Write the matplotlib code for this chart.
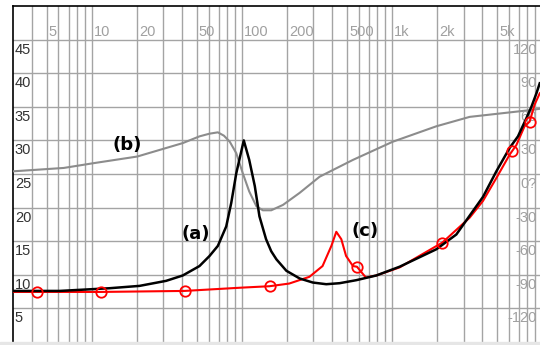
import numpy as np
import matplotlib.pyplot as plt
from matplotlib.patches import Rectangle

plt.rcParams.update({
    "font.family": "Liberation Sans",
    "font.size": 10.5,
})

# curve (a) - black
freq_a = [3, 6.1, 13.1, 20.8, 31.3, 40.4, 52.2, 60.9, 69.2, 78.7, 85.0, 91.8, 103,
          112, 122, 131, 145, 157, 170, 198, 243, 297, 365, 448, 579, 787, 1125, 1977,
          2687, 3296, 4046, 4966, 6095, 6918, 7870, 8500, 9180, 9660]
level_a = [7.6, 7.6, 8.0, 8.35, 9.1, 9.9, 11.3, 12.8, 14.3, 17.2, 20.7, 25.1, 30.0,
           27.1, 23.2, 18.7, 15.3, 13.5, 12.3, 10.6, 9.45, 8.85, 8.6, 8.75, 9.2, 9.9, 11.2, 13.8,
           16.0, 18.8, 21.6, 25.4, 28.9, 30.6, 33.3, 35.0, 37.0, 38.5]

# curve (b) - gray
freq_b = [3, 6.5, 10.2, 20.1, 40.4, 52.2, 60.9, 69.2, 76, 83.1, 91.8, 101.5, 112, 125, 138,
          157, 188, 243, 330, 550, 1012, 1977, 3296, 5224, 8279, 9660]
level_b = [25.4, 25.9, 26.6, 27.6, 29.6, 30.6, 31.0, 31.2, 30.7, 29.8, 28.1, 25.1, 22.4, 20.2, 19.6,
           19.6, 20.4, 22.2, 24.6, 27.1, 29.8, 32.1, 33.5, 34.0, 34.5, 34.7]

# curve (c) - red
freq_c = [3, 11.5, 41.5, 101.5, 153, 207, 282, 345, 395, 426, 460, 495, 550, 585,
          670, 787, 1125, 2170, 3296, 4046, 4966, 6095, 6748, 7650, 8279, 8920, 9660]
level_c = [7.45, 7.45, 7.6, 8.1, 8.3, 8.7, 9.7, 11.3, 14.3, 16.4, 15.3, 12.8, 11.3, 11.2,
           9.6, 9.9, 11.1, 14.8, 18.5, 21.0, 24.4, 27.9, 29.3, 32.1, 32.8, 35.3, 37.0]
marker_freq_c = [4.3, 11.5, 41.5, 153, 585, 2170, 6300, 8279]
marker_level_c = [7.45, 7.45, 7.6, 8.3, 11.2, 14.8, 28.4, 32.8]

top_ticks = [5, 10, 20, 50, 100, 200, 500, 1000, 2000, 5000]
top_labels = ["5", "10", "20", "50", "100", "200", "500", "1k", "2k", "5k"]
left_ticks = [5, 10, 15, 20, 25, 30, 35, 40, 45]
right_labels = ["-120", "-90", "-60", "-30", "0?", "30", "60", "90", "120"]

W, H = 540, 345
fig = plt.figure(figsize=(W / 100, H / 100), dpi=100)
fig.patches.append(Rectangle((0, 0), 1, 3 / H, transform=fig.transFigure,
                             color="#e6e6e6", zorder=0))
ax = fig.add_axes([13.3 / W, 3 / H, 1 - 13.3 / W, (342 - 6) / H])

grid_x = [f * d for d in (1, 10, 100, 1000) for f in range(1, 10)]
ax.set_xscale("log")
ax.set_xlim(3, 9700)
ax.set_ylim(0, 50)
ax.set_xticks([g for g in grid_x if 3 < g < 9700])
ax.xaxis.set_minor_locator(plt.NullLocator())
ax.set_yticks(left_ticks)
ax.tick_params(length=0, labelbottom=False, labelleft=False)
ax.grid(True, color="#a4a4a4", lw=1.0)
ax.set_axisbelow(True)
for s in ("right", "bottom"):
    ax.spines[s].set_visible(False)
for s in ("left", "top"):
    ax.spines[s].set_linewidth(1.2)
    ax.spines[s].set_color("black")

ax.plot(freq_b, level_b, color="#8c8c8c", lw=1.5, zorder=3)
ax.plot(freq_c, level_c, color="#ff0000", lw=1.5, zorder=4)
ax.plot(freq_a, level_a, color="black", lw=1.8, zorder=5)
ax.plot(marker_freq_c, marker_level_c, ls="none", marker="o", ms=7.5, mfc="none",
        mec="#ff0000", mew=1.3, zorder=6)

# tick labels drawn inside the frame
for f, t in zip(top_ticks, top_labels):
    ax.text(f * 1.035, 46.1, t, color="#a0a0a0", ha="left", va="center")
ytr = ax.get_yaxis_transform()
for v, t in zip(left_ticks, right_labels):
    ax.text(0.003, v - 0.45, str(v), color="#333333", ha="left", va="top", transform=ytr)
    ax.text(0.9943, v - 0.45, t, color="#a0a0a0", ha="right", va="top", transform=ytr)

ax.text(17.3, 29.3, "(b)", fontfamily="DejaVu Sans", fontweight="bold", fontsize=13,
        ha="center", va="center")
ax.text(49.1, 16.0, "(a)", fontfamily="DejaVu Sans", fontweight="bold", fontsize=13,
        ha="center", va="center")
ax.text(661, 16.45, "(c)", fontfamily="DejaVu Sans", fontweight="bold", fontsize=13,
        ha="center", va="center")

fig.savefig("out.png", dpi=100)
